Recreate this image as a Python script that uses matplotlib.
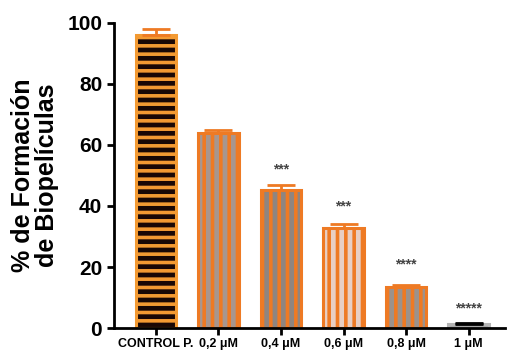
import numpy as np
import matplotlib
import matplotlib.pyplot as plt

matplotlib.use("Agg")

# data
labels = ["CONTROL P.", "0,2 μM", "0,4 μM", "0,6 μM", "0,8 μM", "1 μM"]
means = [96.0, 64.0, 45.3, 32.8, 13.4, 1.2]
errors = [2.0, 1.0, 1.6, 1.3, 0.6, 0.4]
stars = ["", "", "***", "***", "****", "*****"]
star_y = [0, 0, 52.0, 40.0, 21.0, 6.5]

orange = "#EE7A24"
fills = ["#1a0805", "#A8968E", "#8F8580", "#E8CFC4", "#9C928C", "#A8A8A8"]
edges = ["#F39A32", orange, orange, orange, orange, "#B5B5B5"]
hatches = ["--", "||", "||", "||", "||", ""]
errcolors = [orange, orange, orange, orange, orange, "black"]

plt.rcParams["font.family"] = ["Liberation Sans", "DejaVu Sans"]
plt.rcParams["font.weight"] = "bold"
plt.rcParams["hatch.linewidth"] = 2.6

fig = plt.figure(figsize=(5.09, 3.52), dpi=100)
ax = fig.add_axes([0.224, 0.068, 0.768, 0.867])

x = np.arange(len(labels))
for i in range(len(labels)):
    ax.bar(x[i], means[i], 0.65, color=fills[i], edgecolor=edges[i],
           hatch=hatches[i], linewidth=2.2, zorder=2)
    ax.errorbar(x[i], means[i], yerr=[[0], [errors[i]]], color=errcolors[i],
                capsize=10, capthick=2, elinewidth=2, zorder=3)
    if stars[i]:
        ax.text(x[i], star_y[i], stars[i], ha="center", va="center",
                fontsize=10, color="#444444")

ax.set_xlim(-0.67, 5.58)
ax.set_ylim(0, 100)
ax.set_yticks([0, 20, 40, 60, 80, 100])
ax.set_xticks(x)
ax.set_xticklabels(labels, fontsize=9, fontweight="bold")
ax.tick_params(axis="y", labelsize=15, width=2, length=5)
ax.tick_params(axis="x", width=2, length=5, pad=2)
for lab in ax.get_yticklabels():
    lab.set_fontweight("bold")
ax.spines["top"].set_visible(False)
ax.spines["right"].set_visible(False)
ax.spines["left"].set_linewidth(2)
ax.spines["bottom"].set_linewidth(2)
ax.set_ylabel("% de Formación\nde Biopelículas", fontsize=18,
              fontweight="bold", linespacing=1.0, labelpad=6)

plt.savefig("out.png", dpi=100)
